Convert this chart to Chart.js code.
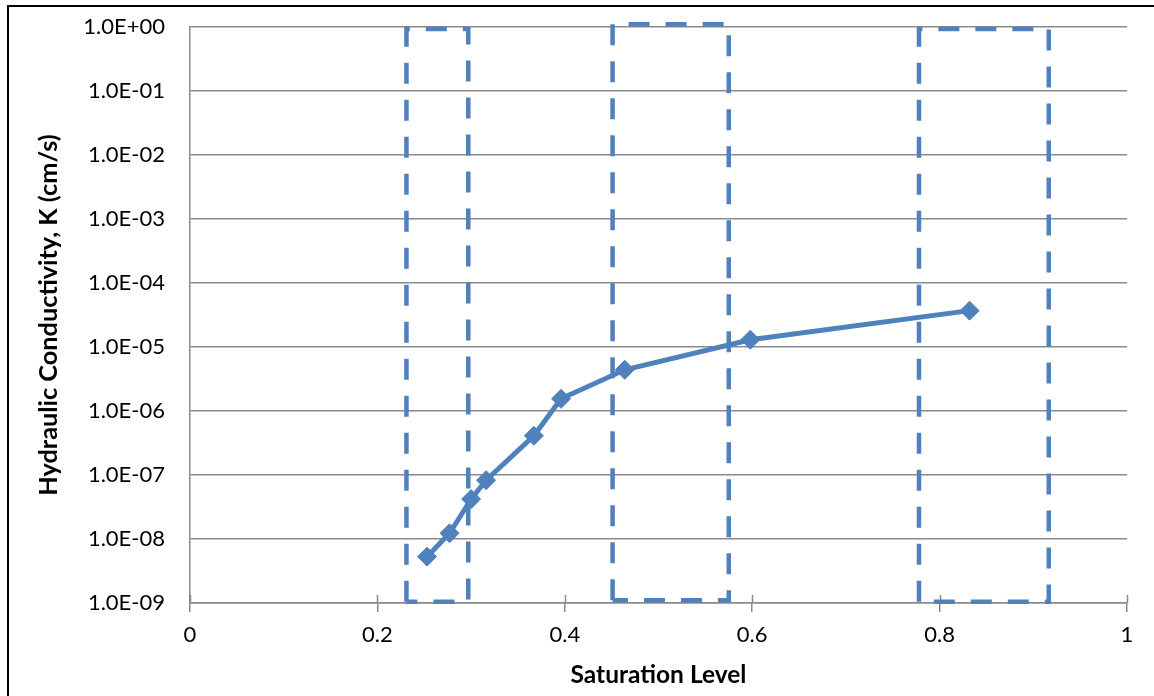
<!DOCTYPE html>
<html>
<head>
<meta charset="utf-8">
<script src="https://cdn.jsdelivr.net/npm/chart.js@4/dist/chart.umd.min.js"></script>
<style>
  html, body { margin: 0; padding: 0; background: #fff; overflow: hidden; }
  #wrap { position: relative; width: 1154px; height: 696px; }
  #frame { position: absolute; left: 7px; top: 5px; width: 1200px; height: 800px;
           border-left: 2px solid #000; border-top: 2px solid #000; pointer-events: none; }
  canvas { position: absolute; left: 0; top: 0; }
</style>
</head>
<body>
<div id="wrap">
  <canvas id="c" width="1154" height="696"></canvas>
  <div id="frame"></div>
</div>
<script>
// ---- data ----
const saturation   = [0.253, 0.277, 0.300, 0.316, 0.367, 0.396, 0.464, 0.598, 0.832];
const conductivity = [5.3e-9, 1.23e-8, 4.2e-8, 8.3e-8, 4.1e-7, 1.55e-6, 4.4e-6, 1.3e-5, 3.7e-5];

// dashed boxes
const rectLeft   = [0.231, 0.451, 0.778];
const rectRight  = [0.297, 0.575, 0.9165];
const rectTop    = [0.93, 1.1, 0.93];
const rectBottom = [1.05e-9, 1.1e-9, 1.05e-9];

// axis ticks
const yTickValues = [1e-9, 1e-8, 1e-7, 1e-6, 1e-5, 1e-4, 1e-3, 1e-2, 1e-1, 1];
const yTickLabels = ['1.0E-09','1.0E-08','1.0E-07','1.0E-06','1.0E-05','1.0E-04','1.0E-03','1.0E-02','1.0E-01','1.0E+00'];
const xTickValues = [0, 0.2, 0.4, 0.6, 0.8, 1];
const xTickLabels = ['0', '0.2', '0.4', '0.6', '0.8', '1'];

const xTitle = 'Saturation Level';
const yTitle = 'Hydraulic Conductivity, K (cm/s)';

const BLUE = '#4F81BD';
const GRID = '#8a8a8a';
const FONT = 'Lato, "Open Sans", sans-serif';

const datasets = [];
for (let i = 0; i < rectLeft.length; i++) {
  datasets.push({
    label: 'box' + (i + 1),
    data: [
      {x: rectLeft[i],  y: rectBottom[i]},
      {x: rectLeft[i],  y: rectTop[i]},
      {x: rectRight[i], y: rectTop[i]},
      {x: rectRight[i], y: rectBottom[i]},
      {x: rectLeft[i],  y: rectBottom[i]}
    ],
    showLine: true,
    borderColor: BLUE,
    borderWidth: 4.5,
    borderDash: [21, 16],
    pointRadius: 0,
    fill: false,
    tension: 0,
    clip: false
  });
}
datasets.push({
  label: 'K',
  data: saturation.map((s, i) => ({x: s, y: conductivity[i]})),
  showLine: true,
  borderColor: BLUE,
  backgroundColor: BLUE,
  borderWidth: 5,
  pointStyle: 'rectRot',
  pointRadius: 9.5,
  pointBorderWidth: 1,
  pointBackgroundColor: BLUE,
  pointBorderColor: BLUE,
  tension: 0,
  clip: false
});

const crossTicks = {
  id: 'crossTicks',
  beforeDatasetsDraw(chart) {
    const xs = chart.scales.x, ys = chart.scales.y;
    const ctx = chart.ctx;
    const yb = ys.getPixelForValue(yTickValues[0]);
    ctx.save();
    ctx.strokeStyle = GRID;
    ctx.lineWidth = 1.5;
    xTickValues.forEach(v => {
      const px = Math.round(xs.getPixelForValue(v)) + 0.5;
      ctx.beginPath();
      ctx.moveTo(px, yb - 8);
      ctx.lineTo(px, yb);
      ctx.stroke();
    });
    ctx.restore();
  }
};

new Chart(document.getElementById('c'), {
  type: 'scatter',
  data: { datasets },
  plugins: [crossTicks],
  options: {
    responsive: false,
    animation: false,
    devicePixelRatio: 1,
    layout: { padding: { left: 0, right: 27, top: 27, bottom: 0 } },
    plugins: { legend: { display: false }, tooltip: { enabled: false } },
    scales: {
      x: {
        type: 'linear',
        min: 0, max: 1,
        afterFit(s) { s.height = 93; s.paddingLeft = 0; s.paddingRight = 0; },
        afterBuildTicks(s) { s.ticks = xTickValues.map(v => ({value: v})); },
        ticks: {
          color: '#000',
          font: { family: FONT, size: 22 },
          padding: 10,
          maxRotation: 0,
          callback: (v, i) => xTickLabels[i]
        },
        grid: { drawOnChartArea: false, drawTicks: true, tickLength: 9, color: GRID, lineWidth: 1.5 },
        border: { display: true, color: GRID, width: 1.5 },
        title: {
          display: true, text: xTitle, color: '#000',
          font: { family: FONT, size: 24.5, weight: 'bold' },
          padding: { top: 0, bottom: 6 }
        }
      },
      y: {
        type: 'logarithmic',
        min: 1e-9, max: 1,
        afterFit(s) { s.width = 190; s.paddingTop = 0; s.paddingBottom = 0; },
        afterBuildTicks(s) { s.ticks = yTickValues.map(v => ({value: v})); },
        ticks: {
          color: '#000',
          font: { family: FONT, size: 22 },
          padding: 25,
          callback: (v, i) => yTickLabels[i]
        },
        grid: { drawTicks: false, color: GRID, lineWidth: 1.5 },
        border: { display: true, color: GRID, width: 1.5 },
        title: {
          display: true, text: yTitle, color: '#000',
          font: { family: FONT, size: 25.3, weight: 'bold' },
          padding: { top: 34, bottom: 0 }
        }
      }
    }
  }
});
</script>
</body>
</html>
